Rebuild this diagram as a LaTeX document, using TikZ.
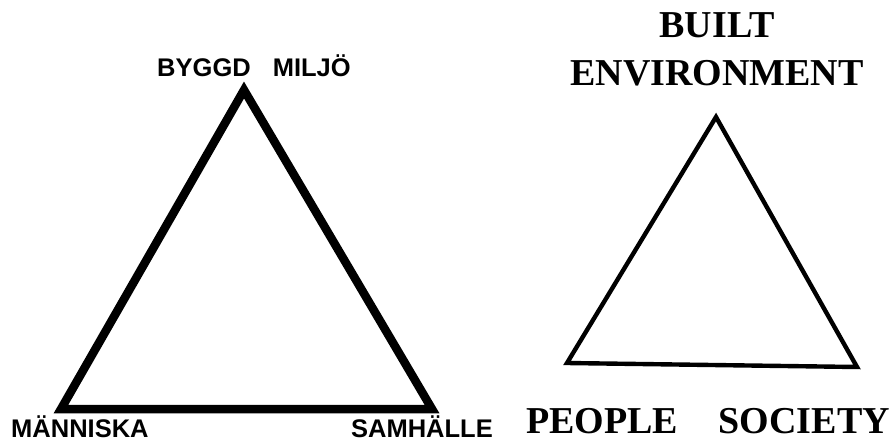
\documentclass[tikz,border=0pt]{standalone}
\usepackage{fontspec}
\setmainfont{Liberation Serif}
\newfontfamily\helvfont{Liberation Sans}
\begin{document}
\begin{tikzpicture}[x=1pt,y=-1pt,
  swlabel/.style={inner sep=0pt,font=\helvfont\bfseries\fontsize{25.5}{30}\selectfont},
  enlabel/.style={inner sep=0pt,font=\bfseries\fontsize{38}{44}\selectfont},
  thickedge/.style={line width=8.5pt,line join=miter},
  thinedge/.style={line width=4.4pt,line join=miter}]
\useasboundingbox (0,0) rectangle (893,441);
% left triangle
\coordinate (bm) at (244,90);
\coordinate (ma) at (61,409);
\coordinate (sa) at (432,409);
\draw[thickedge] (bm) -- (ma) -- (sa) -- cycle;
\node[swlabel,anchor=base] (lbm) at (254,77) {BYGGD\hspace{15pt} MILJÖ};
\node[swlabel,anchor=base west] (lma) at (11,437) {MÄNNISKA};
\node[swlabel,anchor=base east] (lsa) at (493,437) {SAMHÄLLE};
% right triangle
\coordinate (be) at (716,117);
\coordinate (pe) at (567,363);
\coordinate (so) at (857,367);
\draw[thinedge] (be) -- (pe) -- (so) -- cycle;
\node[enlabel,anchor=base] (lbu) at (717,38) {BUILT};
\node[enlabel,anchor=base] (len) at (717,86) {ENVIRONMENT};
\node[enlabel,anchor=base west] (lpe) at (526,433) {PEOPLE};
\node[enlabel,anchor=base east] (lso) at (890,433) {SOCIETY};
\end{tikzpicture}
\end{document}
